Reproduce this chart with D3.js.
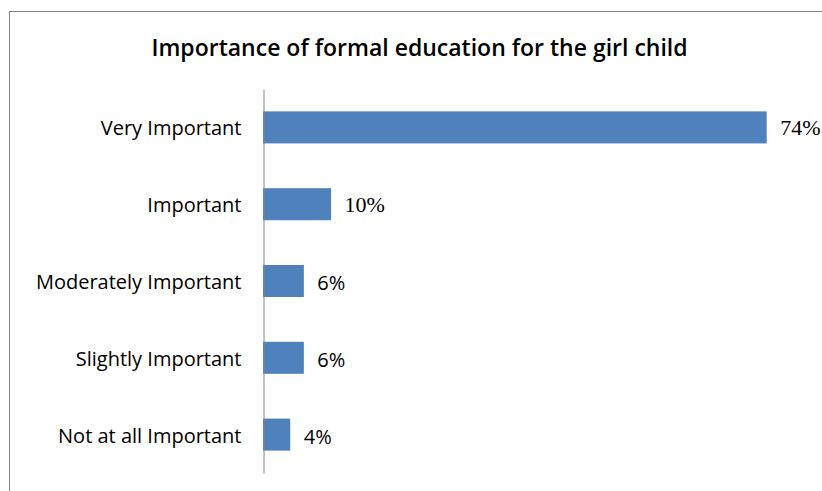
<!DOCTYPE html>
<html>
<head>
<meta charset="utf-8">
<script src="https://cdn.jsdelivr.net/npm/d3@7"></script>
<style>
  html, body { margin: 0; padding: 0; background: #fff; }
  svg { display: block; }
</style>
</head>
<body>
<svg id="chart" width="822" height="491"></svg>
<script>
// Survey responses: importance of formal education for the girl child
const categories = ["Very Important", "Important", "Moderately Important", "Slightly Important", "Not at all Important"];
const percentages = [74, 10, 6, 6, 4];
const valueLabels = ["74%", "10%", "6%", "6%", "4%"];
const chartTitle = "Importance of formal education for the girl child";

const svg = d3.select("#chart");
const W = 822, H = 491;

// Chart-area frame (only top and left edges fall inside the view)
svg.append("rect")
  .attr("x", 9.5).attr("y", 11.5)
  .attr("width", W).attr("height", H)
  .attr("fill", "none").attr("stroke", "#868686").attr("stroke-width", 1);

svg.append("text")
  .attr("x", 419.5).attr("y", 56)
  .attr("text-anchor", "middle")
  .attr("font-family", "'Open Sans', sans-serif")
  .attr("font-weight", 600)
  .attr("font-size", 23)
  .attr("fill", "#000")
  .text(chartTitle);

const x0 = 263;
const x = d3.scaleLinear().domain([0, 74]).range([x0, 766.7]);
const y = d3.scaleBand().domain(categories).range([89, 473]).paddingInner(0.583).paddingOuter(0.2915);

// Bars
svg.append("g").selectAll("rect")
  .data(categories)
  .join("rect")
  .attr("x", x(0))
  .attr("y", d => y(d))
  .attr("width", (d, i) => x(percentages[i]) - x(0))
  .attr("height", y.bandwidth())
  .attr("fill", "#4f81bd");

// Category axis (line only, no ticks)
const axis = d3.axisLeft(y).tickSize(0).tickPadding(22);
const gAxis = svg.append("g").attr("transform", `translate(${x0 + 0.5},0)`).call(axis);
gAxis.select(".domain").attr("stroke", "#868686");
gAxis.selectAll("text")
  .attr("font-family", "'Open Sans', sans-serif")
  .attr("font-size", 20)
  .attr("dy", "0.4em")
  .attr("fill", "#000");

// Value labels
svg.append("g").selectAll("text")
  .data(categories)
  .join("text")
  .attr("x", (d, i) => x(percentages[i]) + 13.5)
  .attr("y", d => y(d) + y.bandwidth() / 2)
  .attr("dy", (d, i) => i < 2 ? "0.36em" : "0.45em")
  .attr("font-family", (d, i) => i < 2 ? "'Liberation Serif', serif" : "'Open Sans', sans-serif")
  .attr("font-size", (d, i) => i < 2 ? 22 : 20)
  .attr("fill", "#000")
  .text((d, i) => valueLabels[i]);
</script>
</body>
</html>
